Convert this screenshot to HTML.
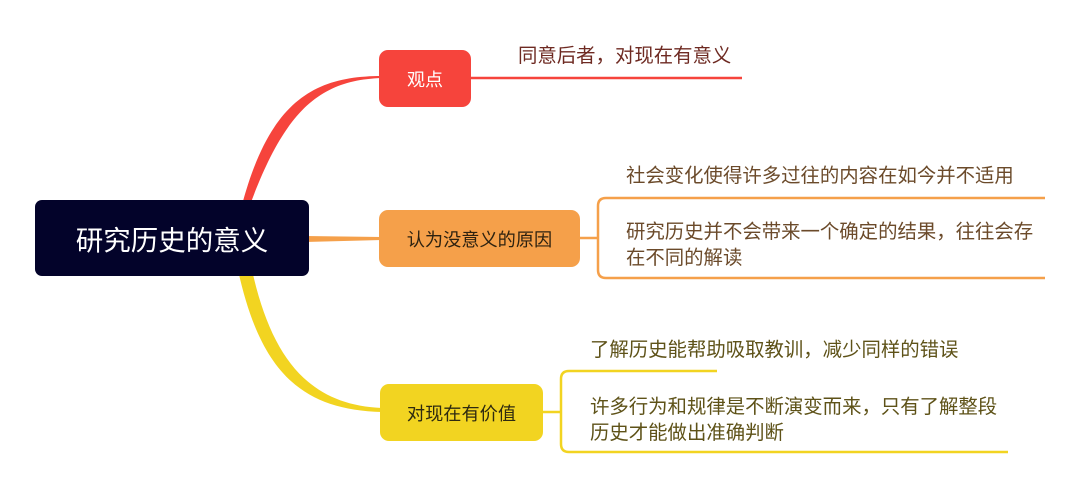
<!DOCTYPE html>
<html><head><meta charset="utf-8"><style>
body{margin:0;width:1080px;height:485px;background:#fff;position:relative;overflow:hidden;font-family:"Liberation Sans","Noto Sans CJK SC",sans-serif}
.b{position:absolute;border-radius:9px;display:flex;align-items:center;justify-content:center}
.t{position:absolute;font-size:19.4px;white-space:nowrap;line-height:26px}
</style></head><body>
<svg width="1080" height="485" style="position:absolute;left:0;top:0">
<path d="M250,205 C285,110 320,80 382,78 L382,76 C315,76 270,100 242,205 Z" fill="#f6443c"/>
<line x1="470" y1="78" x2="742" y2="78" stroke="#f6443c" stroke-width="2.5"/>
<path d="M305,236 L382,237 L382,240 L305,242 Z" fill="#f5a04a"/>
<line x1="580" y1="238" x2="598" y2="238" stroke="#f5a04a" stroke-width="2.5"/>
<path d="M1045,198 L606,198 Q598,198 598,206 L598,270 Q598,278 606,278 L1045,278" fill="none" stroke="#f5a04a" stroke-width="2.5"/>
<path d="M238,270 C260,370 300,410 382,412 L382,408 C310,405 272,360 252,270 Z" fill="#f2d421"/>
<line x1="543" y1="412" x2="561" y2="412" stroke="#f2d421" stroke-width="2.5"/>
<path d="M717,371 L569,371 Q561,371 561,379 L561,444 Q561,452 569,452 L1008,452" fill="none" stroke="#f2d421" stroke-width="2.5"/>
</svg>
<div class="b" style="left:35px;top:200px;width:274px;height:76px;background:#03032a;color:#fff;font-size:27.5px;border-radius:7px">研究历史的意义</div>
<div class="b" style="left:379px;top:50px;width:92px;height:57px;background:#f6443c;color:#fff;font-size:18px">观点</div>
<div class="b" style="left:379px;top:210px;width:201px;height:57px;background:#f5a04a;color:#2e2210;font-size:18.2px">认为没意义的原因</div>
<div class="b" style="left:380px;top:384px;width:163px;height:57px;background:#f2d421;color:#2e2a10;font-size:18.2px">对现在有价值</div>
<div class="t" style="left:518px;top:43px;color:#6e2a22">同意后者，对现在有意义</div>
<div class="t" style="left:626px;top:163px;color:#6b4a2a">社会变化使得许多过往的内容在如今并不适用</div>
<div class="t" style="left:626px;top:219px;color:#6b4a2a">研究历史并不会带来一个确定的结果，往往会存<br>在不同的解读</div>
<div class="t" style="left:590px;top:337px;color:#5e5218">了解历史能帮助吸取教训，减少同样的错误</div>
<div class="t" style="left:590px;top:394px;color:#5e5218">许多行为和规律是不断演变而来，只有了解整段<br>历史才能做出准确判断</div>
</body></html>
